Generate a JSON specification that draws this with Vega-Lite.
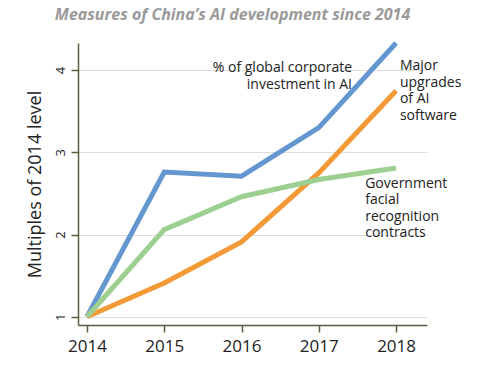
{
  "$schema": "https://vega.github.io/schema/vega-lite/v6.json",
  "width": 349,
  "height": 282,
  "autosize": {"type": "none"},
  "padding": {"left": 78, "top": 43, "right": 60, "bottom": 52},
  "background": "white",
  "title": {
    "text": "Measures of China’s AI development since 2014",
    "font": "Open Sans",
    "fontSize": 16,
    "fontStyle": "italic",
    "fontWeight": "bold",
    "color": "#9a9a9a",
    "anchor": "middle",
    "offset": 10,
    "dx": -20
  },
  "config": {
    "view": {"stroke": null},
    "axis": {"labelFont": "Open Sans", "titleFont": "Open Sans"}
  },
  "datasets": {
    "series": [
      {"year": 2014, "value": 1.0, "series": "investment"},
      {"year": 2015, "value": 2.76, "series": "investment"},
      {"year": 2016, "value": 2.71, "series": "investment"},
      {"year": 2017, "value": 3.3, "series": "investment"},
      {"year": 2018, "value": 4.33, "series": "investment"},
      {"year": 2014, "value": 1.0, "series": "software"},
      {"year": 2015, "value": 1.41, "series": "software"},
      {"year": 2016, "value": 1.91, "series": "software"},
      {"year": 2017, "value": 2.75, "series": "software"},
      {"year": 2018, "value": 3.75, "series": "software"},
      {"year": 2014, "value": 1.0, "series": "facial"},
      {"year": 2015, "value": 2.06, "series": "facial"},
      {"year": 2016, "value": 2.46, "series": "facial"},
      {"year": 2017, "value": 2.67, "series": "facial"},
      {"year": 2018, "value": 2.81, "series": "facial"}
    ],
    "labelsRight": [
      {"x": 2017.43, "y": 4.02, "text": ["% of global corporate", "investment in AI"]}
    ],
    "labelsLeft": [
      {"x": 2018.05, "y": 4.05, "text": ["Major", "upgrades", "of AI", "software"]},
      {"x": 2017.6, "y": 2.62, "text": ["Government", "facial", "recognition", "contracts"]}
    ]
  },
  "layer": [
    {
      "data": {"name": "series"},
      "mark": {"type": "line", "strokeWidth": 5, "strokeCap": "butt", "strokeJoin": "miter"},
      "encoding": {
        "x": {
          "field": "year", "type": "quantitative",
          "scale": {"domain": [2013.884, 2018.4], "nice": false, "zero": false},
          "axis": {
            "values": [2014, 2015, 2016, 2017, 2018],
            "format": "d",
            "title": null,
            "grid": false,
            "domainColor": "#5c5c3c",
            "domainWidth": 1.5,
            "tickColor": "#5c5c3c",
            "tickWidth": 1.5,
            "tickSize": 7,
            "labelFontSize": 17,
            "labelColor": "#222222",
            "labelPadding": 6
          }
        },
        "y": {
          "field": "value", "type": "quantitative",
          "scale": {"domain": [0.9, 4.33], "nice": false, "zero": false},
          "axis": {
            "values": [1, 2, 3, 4],
            "format": "d",
            "title": "Multiples of 2014 level",
            "titleFontSize": 18,
            "titleFontWeight": "normal",
            "titleColor": "#222222",
            "titlePadding": 10,
            "grid": true,
            "gridColor": "#dddddd",
            "gridWidth": 1,
            "domainColor": "#5c5c3c",
            "domainWidth": 1.5,
            "tickColor": "#5c5c3c",
            "tickWidth": 1.5,
            "tickSize": 7,
            "labelAngle": -90,
            "labelAlign": "center",
            "labelBaseline": "bottom",
            "labelFontSize": 13,
            "labelColor": "#222222",
            "labelPadding": 4
          }
        },
        "color": {
          "field": "series", "type": "nominal",
          "scale": {"domain": ["investment", "software", "facial"], "range": ["#6497cf", "#f39a37", "#9dcf90"]},
          "legend": null
        },
        "order": {"field": "year"}
      }
    },
    {
      "data": {"name": "labelsRight"},
      "mark": {"type": "text", "font": "Open Sans", "fontSize": 14, "color": "#222222", "align": "right", "baseline": "middle", "lineHeight": 16.5},
      "encoding": {
        "x": {"field": "x", "type": "quantitative"},
        "y": {"field": "y", "type": "quantitative"},
        "text": {"field": "text"}
      }
    },
    {
      "data": {"name": "labelsLeft"},
      "mark": {"type": "text", "font": "Open Sans", "fontSize": 14, "color": "#222222", "align": "left", "baseline": "middle", "lineHeight": 16.5},
      "encoding": {
        "x": {"field": "x", "type": "quantitative"},
        "y": {"field": "y", "type": "quantitative"},
        "text": {"field": "text"}
      }
    }
  ]
}
